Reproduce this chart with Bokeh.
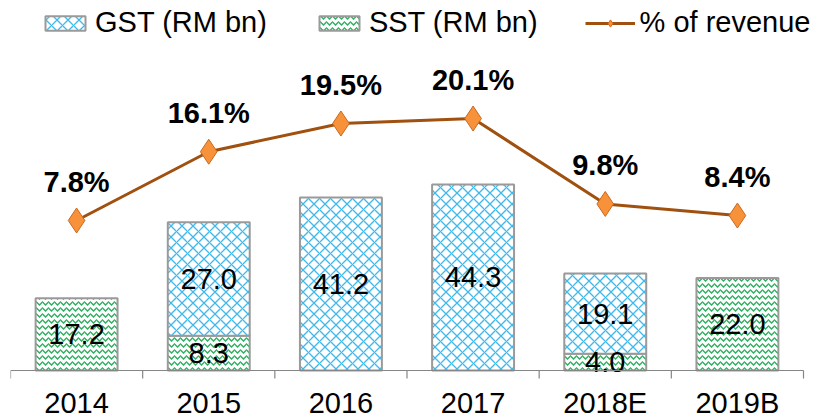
from bokeh.plotting import figure
from bokeh.models import Range1d, ColumnDataSource, Legend, LegendItem
from bokeh.core.properties import value
from bokeh.embed import file_html
from bokeh.resources import INLINE

categories = ["2014", "2015", "2016", "2017", "2018E", "2019B"]
gst = [0.0, 27.0, 41.2, 44.3, 19.1, 0.0]
sst = [17.2, 8.3, 0.0, 0.0, 4.0, 22.0]
pct = [7.8, 16.1, 19.5, 20.1, 9.8, 8.4]
pct_labels = ["7.8%", "16.1%", "19.5%", "20.1%", "9.8%", "8.4%"]

FONT = value("Liberation Sans")
n = len(categories)
xs = [i + 0.5 for i in range(n)]
bounds = list(range(n + 1))

W, H = 819, 419
LEFT = 10
CAT_PX = 793 / n           # pixel width of one category slot
PX_PER_UNIT = 4.2          # primary axis scale (px per RM bn)
TICK_LEN = 8 / PX_PER_UNIT
x_end = (W - LEFT) / CAT_PX

p = figure(width=W, height=H, output_backend="svg", toolbar_location=None,
           x_range=Range1d(0, x_end), y_range=Range1d(-11.67, 88.1),
           x_axis_location=None, y_axis_location=None,
           min_border_left=LEFT, min_border_right=0, min_border_top=0,
           min_border_bottom=0)
p.extra_y_ranges = {"pct": Range1d(-16.2, 34.34)}
p.outline_line_color = None
p.xgrid.visible = False
p.ygrid.visible = False

s_src = ColumnDataSource(dict(
    x=[xs[i] for i in range(n) if sst[i] > 0],
    top=[sst[i] for i in range(n) if sst[i] > 0],
    mid=[sst[i] / 2 for i in range(n) if sst[i] > 0],
    lab=["%.1f" % sst[i] for i in range(n) if sst[i] > 0],
))
g_src = ColumnDataSource(dict(
    x=[xs[i] for i in range(n) if gst[i] > 0],
    bottom=[sst[i] for i in range(n) if gst[i] > 0],
    top=[sst[i] + gst[i] for i in range(n) if gst[i] > 0],
    mid=[sst[i] + gst[i] / 2 for i in range(n) if gst[i] > 0],
    lab=["%.1f" % gst[i] for i in range(n) if gst[i] > 0],
))

r_sst = p.vbar(x="x", top="top", bottom=0, width=0.62, source=s_src,
               fill_color="white", line_color="#9A9A9A", line_width=2,
               hatch_pattern="horizontal_wave", hatch_color="#2EAE62",
               hatch_scale=6, hatch_weight=1.4)
r_gst = p.vbar(x="x", top="top", bottom="bottom", width=0.62, source=g_src,
               fill_color="white", line_color="#9A9A9A", line_width=2,
               hatch_pattern="diagonal_cross", hatch_color="#3FB8EA",
               hatch_scale=11, hatch_weight=1.3)

for src in (s_src, g_src):
    p.text(x="x", y="mid", text="lab", source=src, text_font=FONT,
           text_font_size="29px", text_align="center", text_baseline="middle",
           text_color="black")

# category axis: baseline, boundary ticks and labels
p.segment(x0=[0], y0=[0], x1=[n], y1=[0], line_color="#868686",
          line_width=1.2)
t_src = ColumnDataSource(dict(x=bounds, y0=[0] * len(bounds),
                              y1=[-TICK_LEN] * len(bounds)))
p.segment(x0="x", y0="y0", x1="x", y1="y1", source=t_src,
          line_color="#868686", line_width=1.2)
c_src = ColumnDataSource(dict(x=xs, y=[0] * n, lab=categories))
p.text(x="x", y="y", text="lab", source=c_src, y_offset=33, text_font=FONT,
       text_font_size="29px", text_align="center",
       text_baseline="middle", text_color="black")

l_src = ColumnDataSource(dict(x=xs, y=pct, lab=pct_labels))
r_line = p.line(x="x", y="y", source=l_src, y_range_name="pct",
                line_color="#A0500F", line_width=3)
r_pts = p.scatter(x="x", y="y", source=l_src, y_range_name="pct",
                  marker="diamond", size=25, fill_color="#F7923A",
                  line_color="#C86A1E", line_width=1)
p.text(x="x", y="y", text="lab", source=l_src, y_range_name="pct",
       y_offset=-39, text_font=FONT, text_font_size="29px",
       text_font_style="bold", text_align="center", text_baseline="middle",
       text_color="black")

legend = Legend(items=[
    LegendItem(label="GST (RM bn)", renderers=[r_gst]),
    LegendItem(label="SST (RM bn)", renderers=[r_sst]),
    LegendItem(label="% of revenue", renderers=[r_line, r_pts]),
], orientation="horizontal", location=(30, 380), padding=0, margin=0,
    spacing=47, glyph_width=50, glyph_height=18, label_standoff=5,
    label_text_font="Liberation Sans", label_text_font_size="29px",
    label_text_color="black", border_line_color=None,
    background_fill_alpha=0)
p.add_layout(legend)

open("out.html", "w").write(file_html(p, INLINE))
